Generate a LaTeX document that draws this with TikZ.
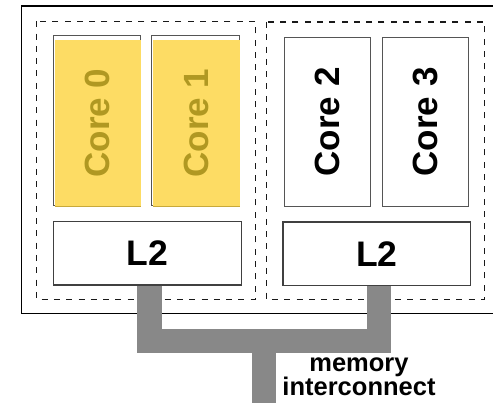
\documentclass[tikz,border=0pt]{standalone}
\usepackage{fontspec}
\setmainfont{Liberation Sans}
\definecolor{coreyellow}{HTML}{FDDC64}
\definecolor{coregold}{HTML}{B09822}
\definecolor{coreedge}{HTML}{C8A93A}
\definecolor{busgray}{HTML}{888888}
\definecolor{boxgray}{HTML}{555555}
\begin{document}
\begin{tikzpicture}[x=1pt,y=-1pt,
  cluster/.style={draw=black!90, line width=1.5pt, dash pattern=on 6pt off 6.3pt},
  corebox/.style={draw=boxgray, line width=1pt, fill=white, minimum width=86pt, minimum height=169.5pt, inner sep=0pt, anchor=north west},
  coretext/.style={font=\fontsize{35}{40}\selectfont\bfseries, rotate=90},
  cachebox/.style={draw=black!75, line width=1.4pt, fill=white, minimum width=188pt, minimum height=63.6pt, inner sep=0pt, anchor=north west, font=\fontsize{35.5}{40}\selectfont\bfseries},
  bus/.style={draw=busgray, line width=24.3pt, line join=miter},
  label/.style={font=\fontsize{25.5}{24}\selectfont\bfseries, align=center, inner sep=0pt}
]
\useasboundingbox (0,0) rectangle (493,403);
% chip outline (right side beyond the picture)
\draw[line width=1.6pt] (500,6.3) -- (21.3,6.3) -- (21.3,313.7) -- (500,313.7);
% clusters
\draw[cluster] (36.7,21.3) rectangle (255.3,299.3);
\draw[cluster] (266.3,22) rectangle (484.7,299.3);
% yellow cores
\draw[draw=boxgray, line width=1pt] (53.3,36) rectangle (140,206);
\fill[coreyellow] (55,40) rectangle (141,207.5);
\draw[coreedge, line width=1pt] (55,207) -- (141,207);
\node[coretext, text=coregold] (c0) at (97,123) {Core 0};
\draw[draw=boxgray, line width=1pt] (151.7,36) rectangle (239.3,206);
\fill[coreyellow] (153.4,40) rectangle (240.3,207.5);
\draw[coreedge, line width=1pt] (153.4,207) -- (240.3,207);
\node[coretext, text=coregold] (c1) at (196,123) {Core 1};
% white cores
\node[corebox] (c2b) at (283.7,36.7) {};
\node[coretext] (c2) at (c2b.center) {Core 2};
\node[corebox] (c3b) at (382.3,36.7) {};
\node[coretext] (c3) at (c3b.center) {Core 3};
% caches
\node[cachebox] (l2a) at (52.7,220.7) {L2};
\node[cachebox, minimum width=187.7pt] (l2b) at (282.3,221.3) {L2};
% interconnect
\coordinate (join) at (264.2,341.3);
\coordinate (mem) at (264.2,410);
\draw[bus] (l2a.south -| 149.5,0) -- (149.5,341.3) -- (379.2,341.3) -- (l2b.south -| 379.2,0);
\draw[bus] (join) -- (mem);
\node[label, anchor=north] (lbl) at (359,358) {memory\\interconnect};
\end{tikzpicture}
\end{document}
